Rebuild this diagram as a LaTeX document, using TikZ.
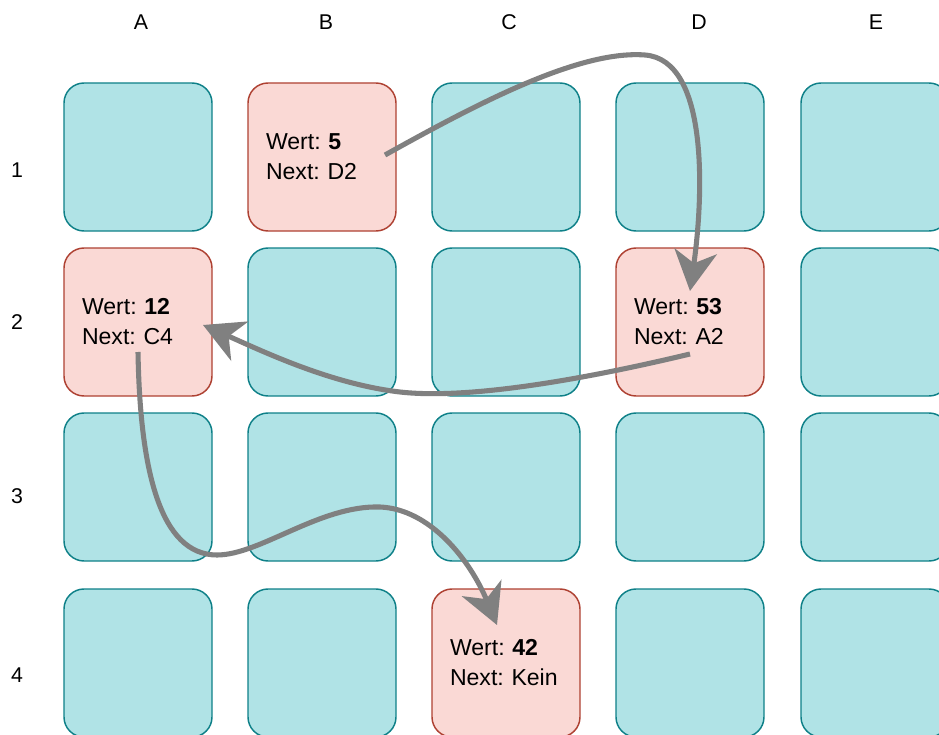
\documentclass[tikz,border=0pt]{standalone}
\usepackage{fontspec}
\setmainfont{Liberation Sans}
\usetikzlibrary{arrows.meta}
\definecolor{tealfill}{HTML}{B0E3E6}
\definecolor{tealline}{HTML}{0E8088}
\definecolor{redfill}{HTML}{FAD9D5}
\definecolor{redline}{HTML}{AE4132}
\definecolor{arrowgray}{HTML}{808080}
\frenchspacing
\begin{document}
\begin{tikzpicture}[x=0.75pt,y=-0.75pt,
  cell/.style={draw=tealline,fill=tealfill,line width=1.1pt,rounded corners=15pt,
    minimum width=111pt,minimum height=111pt,inner sep=0pt,text width=84pt,
    align=left,font=\fontsize{17.3}{22.5}\selectfont},
  hit/.style={cell,draw=redline,fill=redfill},
  axis/.style={font=\fontsize{16}{19}\selectfont,inner sep=0pt},
  link/.style={draw=arrowgray,line width=3.8pt,
    -{Stealth[length=30pt,width=32pt,inset=9pt]}}]
\useasboundingbox (0,0) rectangle (939,735);
% column and row labels
\node[axis] (cA) at (141,22) {A};
\node[axis] (cB) at (326,22) {B};
\node[axis] (cC) at (509,22) {C};
\node[axis] (cD) at (699,22) {D};
\node[axis] (cE) at (876,22) {E};
\node[axis] (r1) at (17,170) {1};
\node[axis] (r2) at (17,322) {2};
\node[axis] (r3) at (17,496) {3};
\node[axis] (r4) at (17,675) {4};
% row 1
\node[cell] (A1) at (138,157) {};
\node[hit]  (B1) at (322,157) {Wert: \textbf{5}\\Next: D2};
\node[cell] (C1) at (506,157) {};
\node[cell] (D1) at (690,157) {};
\node[cell] (E1) at (875,157) {};
% row 2
\node[hit]  (A2) at (138,322) {Wert: \textbf{12}\\Next: C4};
\node[cell] (B2) at (322,322) {};
\node[cell] (C2) at (506,322) {};
\node[hit]  (D2) at (690,322) {Wert: \textbf{53}\\Next: A2};
\node[cell] (E2) at (875,322) {};
% row 3
\node[cell] (A3) at (138,487) {};
\node[cell] (B3) at (322,487) {};
\node[cell] (C3) at (506,487) {};
\node[cell] (D3) at (690,487) {};
\node[cell] (E3) at (875,487) {};
% row 4
\node[cell] (A4) at (138,663) {};
\node[cell] (B4) at (322,663) {};
\node[hit]  (C4) at (506,663) {Wert: \textbf{42}\\Next: Kein};
\node[cell] (D4) at (690,663) {};
\node[cell] (E4) at (875,663) {};
% links
\coordinate (a1s) at (385,155);
\coordinate (a1m) at (645,55);
\coordinate (a1e) at (690,291);
\draw[link] (a1s) .. controls (480,102) and (580,50) .. (a1m)
  .. controls (710,60) and (703,200) .. (a1e);
\coordinate (a2s) at (690,354);
\coordinate (a2m) at (400,392);
\coordinate (a2e) at (203,325);
\draw[link] (a2s) .. controls (590,378) and (470,400) .. (a2m)
  .. controls (330,384) and (260,350) .. (a2e);
\coordinate (a3s) at (138,352);
\coordinate (a3m1) at (217,555);
\coordinate (a3m2) at (380,507);
\coordinate (a3e) at (497,625);
\draw[link] (a3s) .. controls (140,470) and (160,555) .. (a3m1)
  .. controls (260,555) and (320,505) .. (a3m2)
  .. controls (430,509) and (470,560) .. (a3e);
\end{tikzpicture}
\end{document}
